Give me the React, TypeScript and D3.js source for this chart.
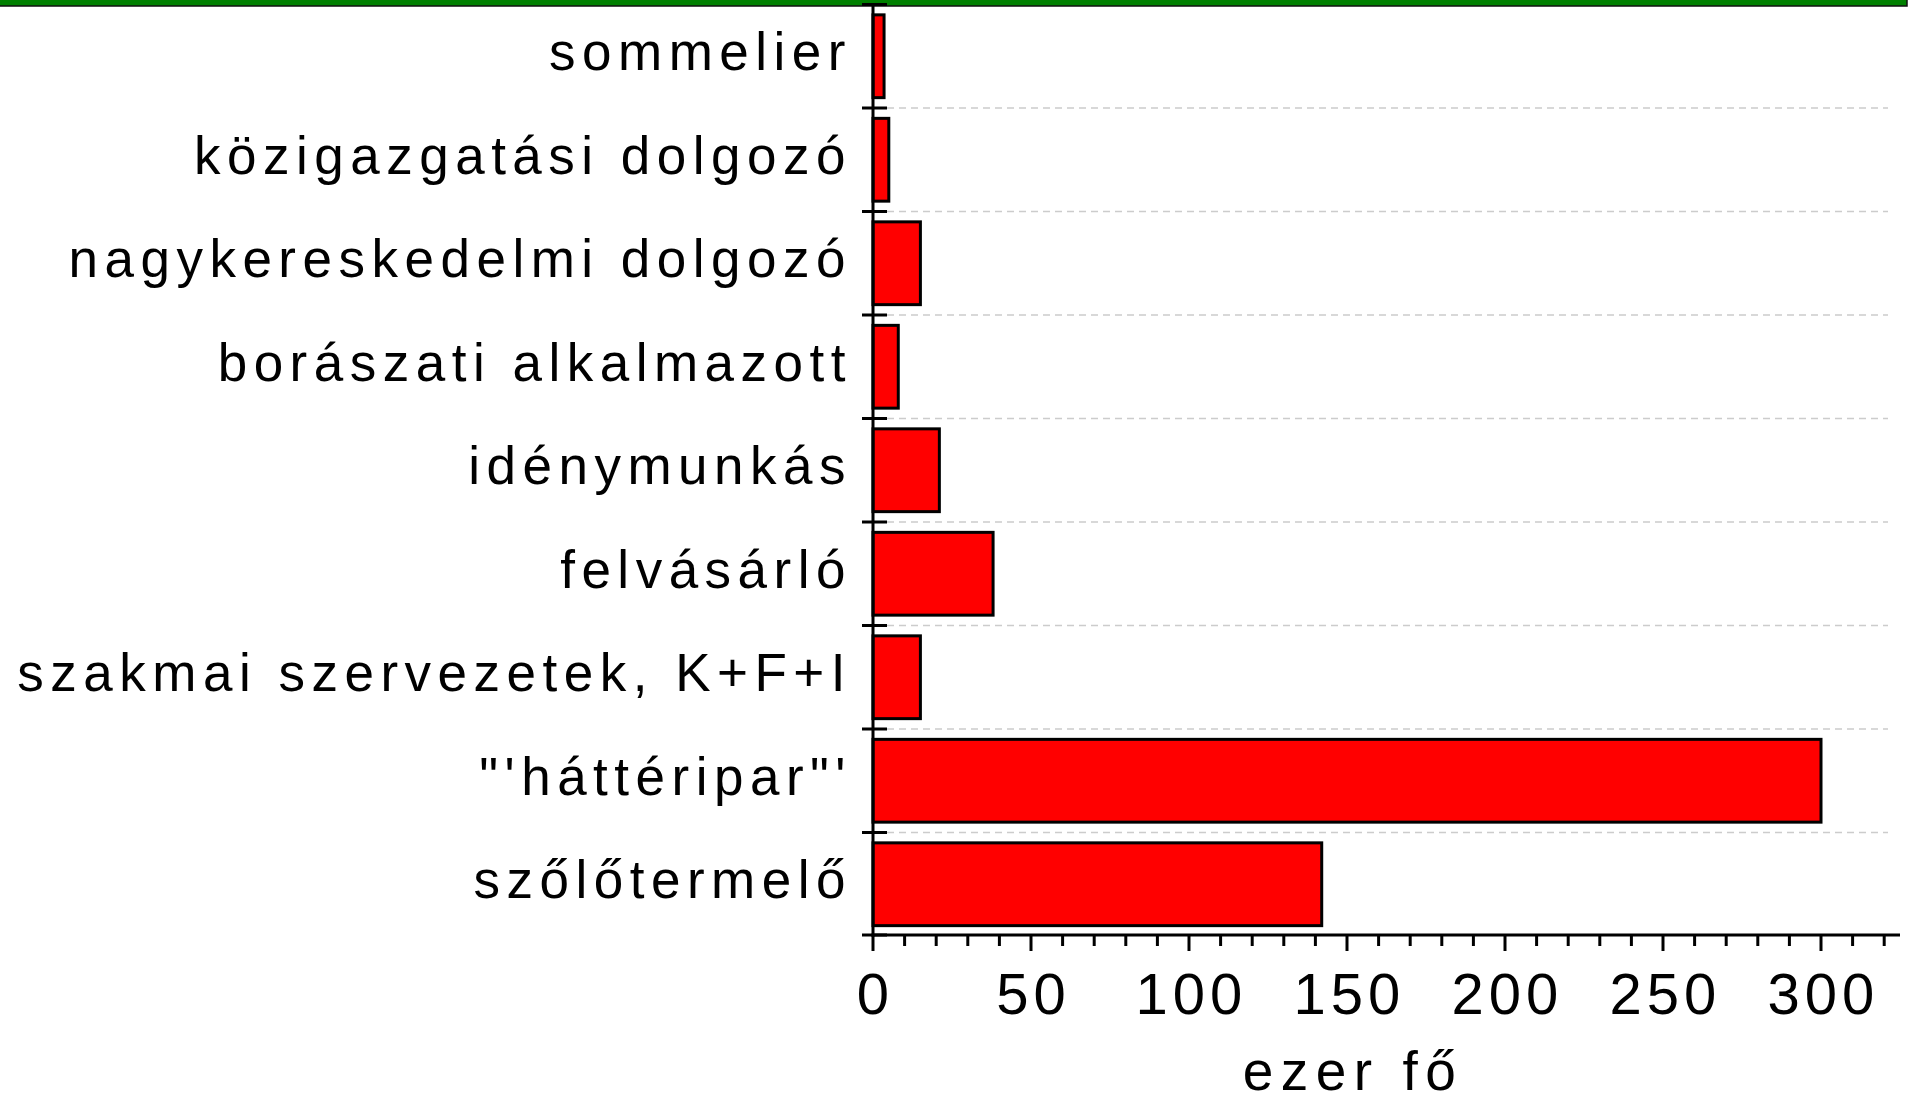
import React from "react";
import * as d3 from "d3";

// categories from top to bottom, values in ezer fő
const categories = [
  "sommelier",
  "közigazgatási dolgozó",
  "nagykereskedelmi dolgozó",
  "borászati alkalmazott",
  "idénymunkás",
  "felvásárló",
  "szakmai szervezetek, K+F+I",
  "\"'háttéripar\"'",
  "szőlőtermelő",
];
const values = [3.5, 5, 15, 8, 21, 38, 15, 300, 142];
const majorTicks = [0, 50, 100, 150, 200, 250, 300];
const axisTitle = "ezer fő";

const W = 1912;
const H = 1101;
const FONT = "'Liberation Sans', Arial, sans-serif";

export default function App() {
  const x = d3.scaleLinear().domain([0, 325]).range([873, 1900]);
  const y = d3
    .scaleBand<string>()
    .domain(categories)
    .range([4.5, 936])
    .paddingInner(0.2)
    .paddingOuter(0.1);

  const step = y.step();
  const top = y.range()[0];
  // cell boundaries (ticks + grid)
  const bounds = d3.range(categories.length + 1).map((i) => top + i * step);
  const minorTicks = d3.range(0, 330, 10).filter((d) => d % 50 !== 0);
  const axisY = bounds[bounds.length - 1] - 1;

  return (
    <svg
      width={W}
      height={H}
      style={{ position: "absolute", left: 0, top: 0, background: "#fff" }}
    >
      <rect x={-2} y={-2} width={1909} height={8} fill="#008000" stroke="#111" strokeWidth={1.5} />

      {/* dashed grid */}
      {bounds.slice(1, -1).map((b, i) => (
        <line key={"g" + i} x1={887} x2={1888} y1={b} y2={b} stroke="#cccccc" strokeWidth={1.5} strokeDasharray="7,5" />
      ))}

      {/* bars */}
      {categories.map((c, i) => (
        <rect
          key={c}
          x={x(0)}
          y={y(c)}
          width={x(values[i]) - x(0)}
          height={y.bandwidth()}
          fill="#ff0000"
          stroke="#000"
          strokeWidth={3}
        />
      ))}

      {/* y axis */}
      <line x1={x(0)} x2={x(0)} y1={top} y2={axisY + 1.5} stroke="#000" strokeWidth={3} />
      {bounds.map((b, i) => (
        <line key={"t" + i} x1={862} x2={887} y1={i === bounds.length - 1 ? axisY : b} y2={i === bounds.length - 1 ? axisY : b} stroke="#000" strokeWidth={3} />
      ))}
      {categories.map((c) => (
        <text
          key={"l" + c}
          x={852}
          y={(y(c) as number) + y.bandwidth() / 2 + 14}
          textAnchor="end"
          fontFamily={FONT}
          fontSize={53}
          letterSpacing={6.5}
          fill="#000"
        >
          {c}
        </text>
      ))}

      {/* x axis */}
      <line x1={x(0) - 1.5} x2={1900} y1={axisY} y2={axisY} stroke="#000" strokeWidth={3} />
      {majorTicks.map((t) => (
        <g key={"M" + t}>
          <line x1={x(t)} x2={x(t)} y1={axisY} y2={axisY + 16} stroke="#000" strokeWidth={3} />
          <text
            x={x(t) + 2.5}
            y={1014}
            textAnchor="middle"
            fontFamily={FONT}
            fontSize={58}
            letterSpacing={5}
            fill="#000"
          >
            {t}
          </text>
        </g>
      ))}
      {minorTicks.map((t) => (
        <line key={"m" + t} x1={x(t)} x2={x(t)} y1={axisY} y2={axisY + 11} stroke="#000" strokeWidth={3} />
      ))}
      <text x={1353} y={1090} textAnchor="middle" fontFamily={FONT} fontSize={55} letterSpacing={7.5} fill="#000">
        {axisTitle}
      </text>
    </svg>
  );
}
